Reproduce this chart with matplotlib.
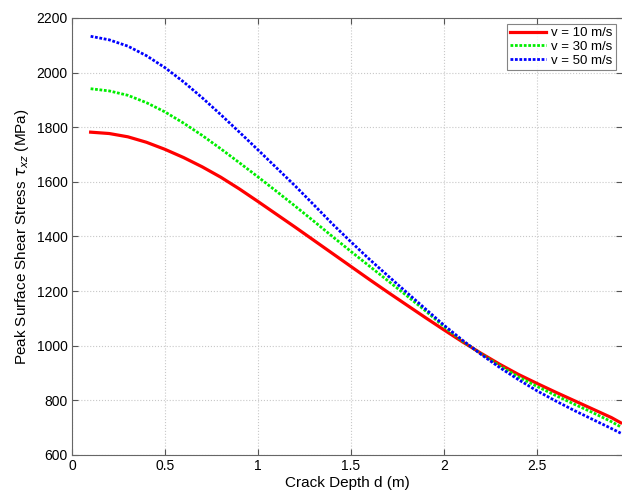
import matplotlib.pyplot as plt

plt.rcParams['font.family'] = ['Liberation Sans', 'DejaVu Sans']

# crack depth (m)
depth = [0.1, 0.2, 0.3, 0.4, 0.5, 0.6, 0.7, 0.8, 0.9, 1.0,
         1.1, 1.2, 1.3, 1.4, 1.5, 1.6, 1.7, 1.8, 1.9, 2.0,
         2.1, 2.2, 2.3, 2.4, 2.5, 2.6, 2.7, 2.8, 2.9, 2.95]

# peak surface shear stress (MPa)
tau_v10 = [1782, 1777, 1765, 1745, 1719, 1689, 1655, 1617, 1574, 1528,
           1481, 1434, 1386, 1338, 1290, 1242, 1195, 1149, 1103, 1058,
           1014, 972, 932, 895, 862, 830, 799, 768, 737, 718]
tau_v30 = [1941, 1933, 1917, 1890, 1856, 1815, 1770, 1721, 1670, 1618,
           1565, 1511, 1456, 1400, 1345, 1291, 1237, 1183, 1128, 1070,
           1017, 970, 926, 886, 851, 818, 786, 755, 722, 703]
tau_v50 = [2133, 2120, 2097, 2062, 2018, 1966, 1908, 1846, 1782, 1717,
           1651, 1585, 1516, 1446, 1380, 1316, 1255, 1195, 1135, 1075,
           1020, 968, 920, 876, 835, 798, 763, 730, 697, 680]

labels = ['v = 10 m/s', 'v = 30 m/s', 'v = 50 m/s']

fig = plt.figure(figsize=(6.22, 4.93), dpi=100)
ax = fig.add_axes([0.1158, 0.0771, 0.8842, 0.8864])

ax.plot(depth, tau_v10, color='#ff0000', lw=2.3, label=labels[0])
ax.plot(depth, tau_v30, color='#00ee00', lw=2.0, ls=(0, (1, 0.6)), label=labels[1])
ax.plot(depth, tau_v50, color='#0000ff', lw=2.0, ls=(0, (1, 0.6)), label=labels[2])

ax.set_xlim(0, 2.957)
ax.set_ylim(600, 2200)
ax.set_xticks([0, 0.5, 1, 1.5, 2, 2.5])
ax.set_xticklabels(['0', '0.5', '1', '1.5', '2', '2.5'])
ax.set_yticks(range(600, 2201, 200))

ax.grid(True, ls=':', color='#c8c8c8', lw=0.8)
ax.tick_params(direction='in', top=True, right=True, length=4,
               labelsize=10, color='#555555', pad=3)
for s in ['left', 'bottom', 'top']:
    ax.spines[s].set_color('#666666')
ax.spines['right'].set_visible(False)

ax.set_xlabel('Crack Depth d (m)', fontsize=11, labelpad=2)
ax.set_ylabel(r'Peak Surface Shear Stress $\tau_{xz}$ (MPa)', fontsize=11, labelpad=4)

leg = ax.legend(loc='upper right', fontsize=9.5, frameon=True, fancybox=False,
                edgecolor='#666666', borderpad=0.25, labelspacing=0.1,
                handlelength=2.7, handletextpad=0.4, borderaxespad=0.45)
leg.get_frame().set_linewidth(0.8)

fig.savefig('out.png', dpi=100)
